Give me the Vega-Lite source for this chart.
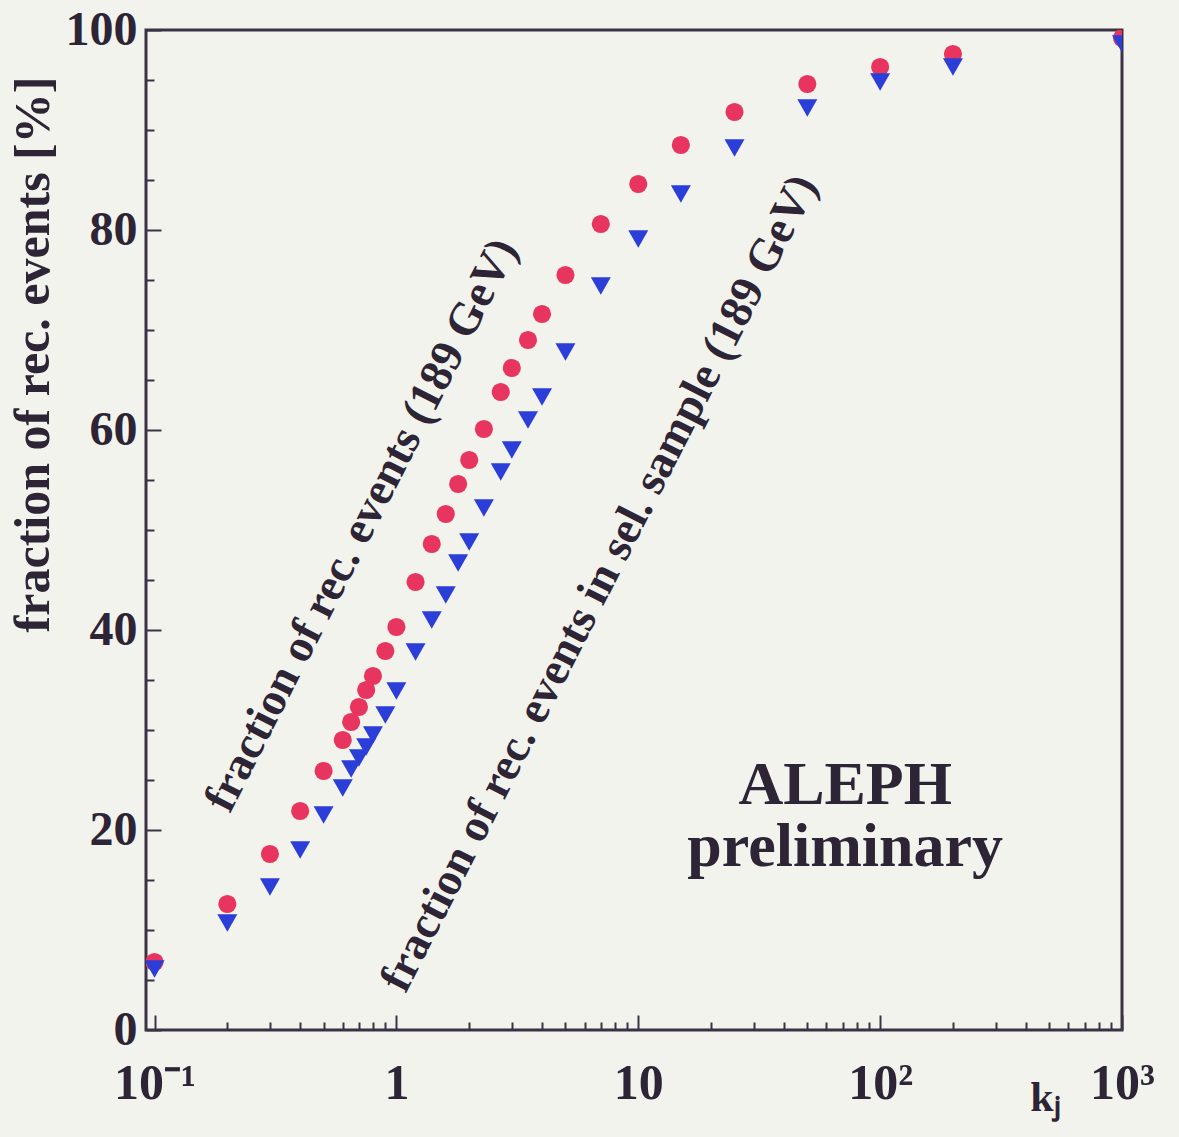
{
  "$schema": "https://vega.github.io/schema/vega-lite/v6.json",
  "width": 976,
  "height": 1000,
  "autosize": {"type": "none"},
  "padding": {"left": 146, "top": 30, "right": 57, "bottom": 107},
  "background": "#f2f3ed",
  "config": {
    "view": {"stroke": "#3a3346", "strokeWidth": 3},
    "font": "Liberation Serif",
    "text": {"font": "Liberation Serif", "fontWeight": "bold", "color": "#2d2535"}
  },
  "datasets": {
    "fractions": [
      {"k": 0.1, "f": 6.8, "series": "rec"},
      {"k": 0.2, "f": 12.6, "series": "rec"},
      {"k": 0.3, "f": 17.6, "series": "rec"},
      {"k": 0.4, "f": 21.9, "series": "rec"},
      {"k": 0.5, "f": 25.9, "series": "rec"},
      {"k": 0.6, "f": 29.0, "series": "rec"},
      {"k": 0.65, "f": 30.8, "series": "rec"},
      {"k": 0.7, "f": 32.3, "series": "rec"},
      {"k": 0.75, "f": 34.0, "series": "rec"},
      {"k": 0.8, "f": 35.4, "series": "rec"},
      {"k": 0.9, "f": 37.9, "series": "rec"},
      {"k": 1.0, "f": 40.3, "series": "rec"},
      {"k": 1.2, "f": 44.8, "series": "rec"},
      {"k": 1.4, "f": 48.6, "series": "rec"},
      {"k": 1.6, "f": 51.6, "series": "rec"},
      {"k": 1.8, "f": 54.6, "series": "rec"},
      {"k": 2.0, "f": 57.0, "series": "rec"},
      {"k": 2.3, "f": 60.1, "series": "rec"},
      {"k": 2.7, "f": 63.8, "series": "rec"},
      {"k": 3.0, "f": 66.2, "series": "rec"},
      {"k": 3.5, "f": 69.0, "series": "rec"},
      {"k": 4.0, "f": 71.6, "series": "rec"},
      {"k": 5.0, "f": 75.5, "series": "rec"},
      {"k": 7.0, "f": 80.6, "series": "rec"},
      {"k": 10, "f": 84.6, "series": "rec"},
      {"k": 15, "f": 88.5, "series": "rec"},
      {"k": 25, "f": 91.8, "series": "rec"},
      {"k": 50, "f": 94.6, "series": "rec"},
      {"k": 100, "f": 96.3, "series": "rec"},
      {"k": 200, "f": 97.6, "series": "rec"},
      {"k": 1000, "f": 99.2, "series": "rec"},
      {"k": 0.1, "f": 6.1, "series": "sel"},
      {"k": 0.2, "f": 10.7, "series": "sel"},
      {"k": 0.3, "f": 14.3, "series": "sel"},
      {"k": 0.4, "f": 18.0, "series": "sel"},
      {"k": 0.5, "f": 21.5, "series": "sel"},
      {"k": 0.6, "f": 24.2, "series": "sel"},
      {"k": 0.65, "f": 26.1, "series": "sel"},
      {"k": 0.7, "f": 27.2, "series": "sel"},
      {"k": 0.75, "f": 28.3, "series": "sel"},
      {"k": 0.8, "f": 29.5, "series": "sel"},
      {"k": 0.9, "f": 31.5, "series": "sel"},
      {"k": 1.0, "f": 33.9, "series": "sel"},
      {"k": 1.2, "f": 37.8, "series": "sel"},
      {"k": 1.4, "f": 41.0, "series": "sel"},
      {"k": 1.6, "f": 43.5, "series": "sel"},
      {"k": 1.8, "f": 46.7, "series": "sel"},
      {"k": 2.0, "f": 48.8, "series": "sel"},
      {"k": 2.3, "f": 52.2, "series": "sel"},
      {"k": 2.7, "f": 55.8, "series": "sel"},
      {"k": 3.0, "f": 58.0, "series": "sel"},
      {"k": 3.5, "f": 61.0, "series": "sel"},
      {"k": 4.0, "f": 63.3, "series": "sel"},
      {"k": 5.0, "f": 67.8, "series": "sel"},
      {"k": 7.0, "f": 74.4, "series": "sel"},
      {"k": 10, "f": 79.1, "series": "sel"},
      {"k": 15, "f": 83.6, "series": "sel"},
      {"k": 25, "f": 88.2, "series": "sel"},
      {"k": 50, "f": 92.2, "series": "sel"},
      {"k": 100, "f": 94.8, "series": "sel"},
      {"k": 200, "f": 96.3, "series": "sel"},
      {"k": 1000, "f": 98.6, "series": "sel"}
    ],
    "curveLabels": [
      {"k": 0.717, "f": 50.5, "txt": "fraction of rec. events (189 GeV)"},
      {"k": 6.9, "f": 44.7, "txt": "fraction of rec. events in sel. sample (189 GeV)"}
    ],
    "stamp": [
      {"k": 71.7, "f": 22.6, "txt": "ALEPH"},
      {"k": 71.7, "f": 16.4, "txt": "preliminary"}
    ]
  },
  "encoding": {
    "x": {
      "field": "k",
      "type": "quantitative",
      "scale": {"type": "log", "domain": [0.0922, 1000], "nice": false},
      "axis": {
        "values": [0.1, 0.2, 0.3, 0.4, 0.5, 0.6, 0.7, 0.8, 0.9, 1, 2, 3, 4, 5, 6, 7, 8, 9, 10, 20, 30, 40, 50, 60, 70, 80, 90, 100, 200, 300, 400, 500, 600, 700, 800, 900, 1000],
        "labelExpr": "datum.value == 0.1 ? '10⁻¹' : datum.value == 1 ? '1' : datum.value == 10 ? '10' : datum.value == 100 ? '10²' : datum.value == 1000 ? '10³' : ''",
        "domain": false,
        "grid": false,
        "ticks": true,
        "tickColor": "#3a3346",
        "tickWidth": 2,
        "tickSize": {"condition": {"test": "abs(log(datum.value)/LN10 - round(log(datum.value)/LN10)) < 0.001", "value": -15}, "value": -8},
        "labelFont": "Liberation Serif",
        "labelFontWeight": "bold",
        "labelFontSize": 50,
        "labelColor": "#2d2535",
        "labelPadding": 43,
        "labelFlush": false,
        "labelOverlap": false,
        "title": "kⱼ",
        "titleFont": "Liberation Serif",
        "titleFontWeight": "bold",
        "titleFontSize": 42,
        "titleColor": "#2d2535",
        "titleAnchor": null,
        "titleAlign": "center",
        "titleBaseline": "alphabetic",
        "titleX": 899,
        "titleY": 80
      }
    },
    "y": {
      "field": "f",
      "type": "quantitative",
      "scale": {"domain": [0, 100], "nice": false},
      "axis": {
        "values": [0, 5, 10, 15, 20, 25, 30, 35, 40, 45, 50, 55, 60, 65, 70, 75, 80, 85, 90, 95, 100],
        "labelExpr": "datum.value % 20 === 0 ? datum.value : ''",
        "domain": false,
        "grid": false,
        "tickColor": "#3a3346",
        "tickWidth": 2,
        "tickSize": {"condition": {"test": "datum.value % 20 === 0", "value": -15}, "value": -8},
        "labelFont": "Liberation Serif",
        "labelFontWeight": "bold",
        "labelFontSize": 48,
        "labelColor": "#2d2535",
        "labelPadding": 24,
        "labelFlush": false,
        "labelOverlap": false,
        "title": "fraction of rec. events [%]",
        "titleFont": "Liberation Serif",
        "titleFontWeight": "bold",
        "titleFontSize": 50,
        "titleColor": "#2d2535",
        "titleAnchor": null,
        "titleAngle": -90,
        "titleAlign": "center",
        "titleBaseline": "middle",
        "titleX": -113,
        "titleY": 324
      }
    }
  },
  "layer": [
    {
      "data": {"name": "fractions"},
      "mark": {"type": "point", "filled": true, "opacity": 1, "clip": true},
      "encoding": {
        "shape": {"field": "series", "type": "nominal", "scale": {"domain": ["rec", "sel"], "range": ["circle", "triangle-down"]}, "legend": null},
        "color": {"field": "series", "type": "nominal", "scale": {"domain": ["rec", "sel"], "range": ["#e8355f", "#2b3ed8"]}, "legend": null},
        "size": {"field": "series", "type": "nominal", "scale": {"domain": ["rec", "sel"], "range": [330, 400]}, "legend": null}
      }
    },
    {
      "data": {"name": "curveLabels"},
      "mark": {"type": "text", "angle": -63, "fontSize": 46, "align": "center", "baseline": "middle"},
      "encoding": {"text": {"field": "txt"}}
    },
    {
      "data": {"name": "stamp"},
      "mark": {"type": "text", "fontSize": 62, "align": "center", "baseline": "alphabetic"},
      "encoding": {"text": {"field": "txt"}}
    }
  ]
}
